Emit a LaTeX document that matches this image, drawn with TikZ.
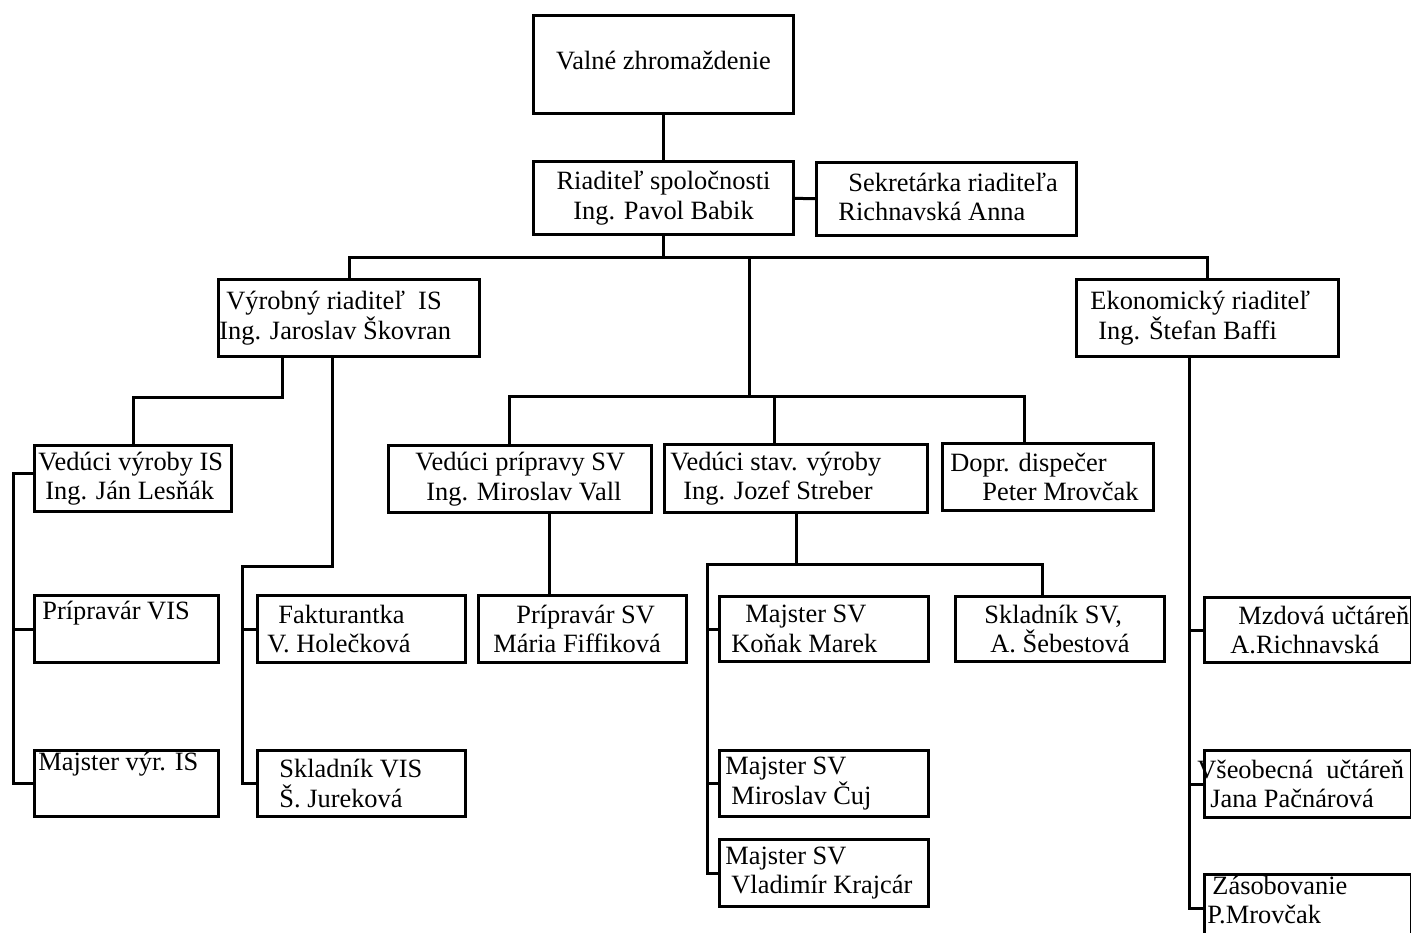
\documentclass[tikz,border=0pt]{standalone}
\usepackage{fontspec}
\setmainfont{Liberation Serif}
\newcommand\orgfont{\fontsize{13.2}{14.8}\selectfont}
\tikzset{boxsize/.style 2 args={minimum width=#1*0.5pt, minimum height=#2*0.5pt}}

\begin{document}
\begin{tikzpicture}[x=0.5pt,y=-0.5pt]
\useasboundingbox (0,0) rectangle (1411,932);
\begin{scope}[every node/.style={rectangle,draw,line width=1.5pt,anchor=north west,inner sep=0pt}]
    \node[boxsize={260}{98}] (valne) at (532,14) {};
    \node[boxsize={260}{73}] (riad) at (532,160) {};
    \node[boxsize={260}{73}] (sekr) at (815,161) {};
    \node[boxsize={261}{77}] (vyr) at (217,278) {};
    \node[boxsize={262}{77}] (ekon) at (1075,278) {};
    \node[boxsize={197}{66}] (vved) at (33,444) {};
    \node[boxsize={184}{67}] (vpr) at (33,594) {};
    \node[boxsize={184}{66}] (vmaj) at (33,749) {};
    \node[boxsize={208}{67}] (fakt) at (256,594) {};
    \node[boxsize={208}{66}] (sklv) at (256,749) {};
    \node[boxsize={263}{67}] (sprep) at (387,444) {};
    \node[boxsize={208}{67}] (sprip) at (477,594) {};
    \node[boxsize={263}{68}] (stav) at (663,443) {};
    \node[boxsize={211}{67}] (disp) at (941,442) {};
    \node[boxsize={209}{65}] (kon) at (718,595) {};
    \node[boxsize={209}{65}] (sklsv) at (954,595) {};
    \node[boxsize={209}{66}] (cuj) at (718,749) {};
    \node[boxsize={209}{67}] (kraj) at (718,838) {};
    \node[boxsize={207}{65}] (mzd) at (1203,596) {};
    \node[boxsize={207}{67}] (vseo) at (1203,749) {};
    \node[boxsize={207}{67}] (zas) at (1203,873) {};
\end{scope}
\begin{scope}[every node/.style={anchor=west,inner sep=0pt,align=left,font=\orgfont}]
    \node[anchor=center,align=center,yshift=2pt] (valne-t) at (valne) {Valné zhromaždenie};
    \node[anchor=center,align=center] (riad-t) at (riad) {Riaditeľ spoločnosti\\Ing. Pavol Babik};
    \node[xshift=11.5pt,yshift=1pt] (sekr-t) at (sekr.west) {\hspace*{5pt}Sekretárka riaditeľa\\Richnavská Anna};
    \node[xshift=1pt] (vyr-t) at (vyr.west) {\hspace*{3.5pt}Výrobný riaditeľ\ \ IS\\Ing. Jaroslav Škovran};
    \node[xshift=7.5pt] (ekon-t) at (ekon.west) {Ekonomický riaditeľ\\\hspace*{4pt}Ing. Štefan Baffi};
    \node[xshift=2.5pt] (vved-t) at (vved.west) {Vedúci výroby IS\\\hspace*{3.5pt}Ing. Ján Lesňák};
    \node[xshift=4.5pt,yshift=8pt] (vpr-t) at (vpr.west) {Prípravár VIS};
    \node[xshift=2.5pt,yshift=9.5pt] (vmaj-t) at (vmaj.west) {Majster výr. IS};
    \node[xshift=5.5pt] (fakt-t) at (fakt.west) {\hspace*{5.5pt}Fakturantka\\V. Holečková};
    \node[xshift=11.5pt] (sklv-t) at (sklv.west) {Skladník VIS\\Š. Jureková};
    \node[xshift=14pt] (sprep-t) at (sprep.west) {Vedúci prípravy SV\\\hspace*{5.5pt}Ing. Miroslav Vall};
    \node[xshift=8pt] (sprip-t) at (sprip.west) {\hspace*{11.5pt}Prípravár SV\\Mária Fiffiková};
    \node[xshift=3.5pt] (stav-t) at (stav.west) {Vedúci stav. výroby\\\hspace*{6.5pt}Ing. Jozef Streber};
    \node[xshift=4.5pt] (disp-t) at (disp.west) {Dopr. dispečer\\\hspace*{16pt}Peter Mrovčak};
    \node[xshift=6.5pt] (kon-t) at (kon.west) {\hspace*{7pt}Majster SV\\Koňak Marek};
    \node[xshift=15pt] (sklsv-t) at (sklsv.west) {Skladník SV,\\\hspace*{3pt}A. Šebestová};
    \node[xshift=3.5pt] (cuj-t) at (cuj.west) {Majster SV\\\hspace*{3pt}Miroslav Čuj};
    \node[xshift=3.5pt] (kraj-t) at (kraj.west) {Majster SV\\\hspace*{3pt}Vladimír Krajcár};
    \node[xshift=13.5pt] (mzd-t) at (mzd.west) {\hspace*{4pt}Mzdová učtáreň\\A.Richnavská};
    \node[xshift=3.5pt] (vseo-t) at (vseo.west) {\hspace*{-6.5pt}Všeobecná\ \ učtáreň\\Jana Pačnárová};
    \node[xshift=2pt,yshift=4pt] (zas-t) at (zas.west) {\hspace*{2.5pt}Zásobovanie\\P.Mrovčak};
\end{scope}
\begin{scope}[line width=1.5pt]
    \coordinate (hub) at (662,257);
    \coordinate (mid) at (749,396);
    \coordinate (m1) at (509,396);
    \coordinate (m2) at (774,396);
    \coordinate (m3) at (1024,396);
    \coordinate (v1) at (282,397);
    \coordinate (v2) at (332,566);
    \coordinate (v3) at (242,566);
    \coordinate (s1) at (549,0);
    \coordinate (k1) at (707,564);
    \coordinate (k2) at (1042,564);
    \coordinate (e1) at (1189,0);
    \draw (valne) -- (riad);
    \draw (riad) -- (sekr);
    \draw (riad) -- (riad |- hub);
    \draw (vyr.north) -- (vyr.north |- hub) -| (ekon.north);
    \draw (mid |- hub) -- (mid);
    \draw (sprep.north -| m1) |- (m3) -- (disp.north -| m3);
    \draw (m2) -- (stav.north -| m2);
    \draw (vyr.south -| v1) -- (v1) -| (vved);
    \draw ([yshift=2.5pt]vved.west) -- ++(-20,0) |- (vmaj);
    \draw (vpr.west) -- ++(-20,0);
    \draw (vyr.south -| v2) -- (v2) -- (v3) |- (sklv);
    \draw (v3 |- fakt) -- (fakt);
    \draw (sprep.south -| s1) -- (sprip.north -| s1);
    \draw (stav) -- (stav |- k1);
    \draw (k2 |- sklsv.north) -- (k2) -- (k1) |- (kraj);
    \draw (k1 |- kon) -- (kon);
    \draw (k1 |- cuj) -- (cuj);
    \draw (ekon.south -| e1) |- (zas);
    \draw (e1 |- mzd) -- (mzd);
    \draw (e1 |- vseo) -- (vseo);
\end{scope}
\end{tikzpicture}
\end{document}
